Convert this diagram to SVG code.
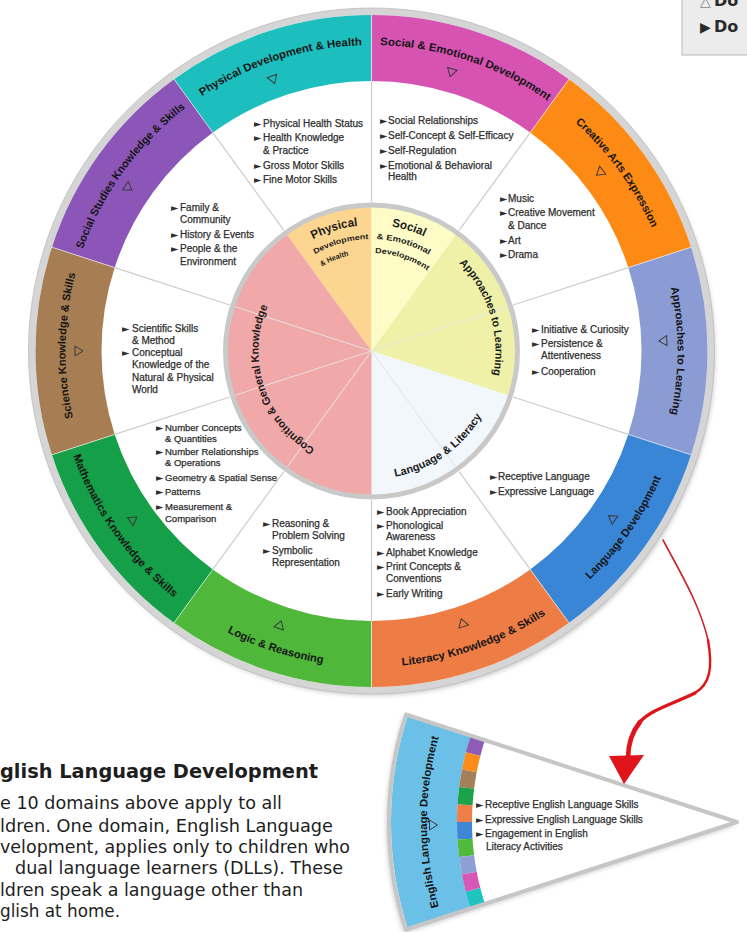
<svg xmlns="http://www.w3.org/2000/svg" width="747" height="932" viewBox="0 0 747 932">
  <style>
    .band-label { font-family: "Liberation Sans", Arial, sans-serif; font-weight: bold; font-size: 11px; fill: #151515; text-anchor: middle; }
    .pie-label { font-family: "Liberation Sans", Arial, sans-serif; font-weight: bold; fill: #1a1a1a; text-anchor: middle; }
    .li { font-family: "Liberation Sans", Arial, sans-serif; font-size: 10px; fill: #2e2e2e; stroke: #2e2e2e; stroke-width: 0.25; }
    .sm { font-size: 9.5px; }
    .ar { font-family: "DejaVu Sans", sans-serif; font-size: 9.5px; fill: #2e2e2e; stroke: none; }
    .arc { fill: none; stroke-width: 66; }
    .strip { fill: none; stroke-width: 15; }
    .divider { stroke: #cdcdcd; stroke-width: 1.2; }
    .sep { stroke: #ffffff; stroke-opacity: 0.6; stroke-width: 1; }
    .faint { stroke: #e4e4e4; stroke-width: 1.1; stroke-opacity: 0.85; }
    .tri { fill: none; stroke: #3a3a3a; stroke-width: 1; }
    .note { font-family: "DejaVu Sans", Verdana, sans-serif; font-size: 17px; fill: #1e1e1e; }
    .note-head { font-family: "DejaVu Sans", Verdana, sans-serif; font-weight: bold; font-size: 19px; fill: #1e1e1e; }
    .legend { font-family: "DejaVu Sans", Verdana, sans-serif; font-weight: bold; font-size: 16px; fill: #2a2a2a; }
  </style>
  <defs>
    <filter id="soft" x="-10%" y="-10%" width="120%" height="120%">
      <feGaussianBlur stdDeviation="2.5"/>
    </filter>
    <!-- outline triangle pointing toward +y; rotated to point at the hub -->
    <path id="tri" d="M-5,-3.5 L5,-3.5 L0,4.5 Z"/>
    <!-- text baselines: full circles around the hub (371.5,351) -->
    <path id="cwBand" d="M371.5,657 A306,306 0 1 1 371.5,45 A306,306 0 1 1 371.5,657"/>
    <path id="ccwBand" d="M371.5,35 A316,316 0 1 0 371.5,667 A316,316 0 1 0 371.5,35"/>
    <path id="cw126" d="M371.5,477 A126,126 0 1 1 371.5,225 A126,126 0 1 1 371.5,477"/>
    <path id="cw112" d="M371.5,463 A112,112 0 1 1 371.5,239 A112,112 0 1 1 371.5,463"/>
    <path id="cw98" d="M371.5,449 A98,98 0 1 1 371.5,253 A98,98 0 1 1 371.5,449"/>
    <path id="cw124" d="M371.5,475 A124,124 0 1 1 371.5,227 A124,124 0 1 1 371.5,475"/>
    <path id="cw113" d="M371.5,464 A113,113 0 1 1 371.5,238 A113,113 0 1 1 371.5,464"/>
    <path id="ccw128" d="M371.5,223 A128,128 0 1 0 371.5,479 A128,128 0 1 0 371.5,223"/>
    <path id="eldArc" d="M442.17,917.8 A310,310 0 0 1 442.17,726.2"/>
  </defs>

  <rect width="747" height="932" fill="#ffffff"/>

  <!-- wheel base: shadow, rim, white field, dividers -->
  <g id="wheel-base">
    <circle cx="373.5" cy="354" r="341" fill="#8a8a8a" opacity="0.55" filter="url(#soft)"/>
    <circle cx="371.5" cy="351" r="339.5" fill="#ffffff" stroke="#d5d5d5" stroke-width="7"/>
    <circle cx="371.5" cy="351" r="343" fill="none" stroke="#bdbdbd" stroke-width="0.8"/>
    <g class="divider">
      <line x1="371.5" y1="202" x2="371.5" y2="81"/>
      <line x1="459.08" y1="230.46" x2="530.21" y2="132.57"/>
      <line x1="513.21" y1="304.96" x2="628.29" y2="267.57"/>
      <line x1="513.21" y1="397.04" x2="628.29" y2="434.43"/>
      <line x1="459.08" y1="471.54" x2="530.21" y2="569.43"/>
      <line x1="371.5" y1="500" x2="371.5" y2="621"/>
      <line x1="283.92" y1="471.54" x2="212.79" y2="569.43"/>
      <line x1="229.79" y1="397.04" x2="114.71" y2="434.43"/>
      <line x1="229.79" y1="304.96" x2="114.71" y2="267.57"/>
      <line x1="283.92" y1="230.46" x2="212.79" y2="132.57"/>
    </g>
  </g>

  <!-- inner pie: the five broad areas -->
  <g id="area-physical">
    <path d="M371.5,351 L285.68,232.88 A146,146 0 0 1 371.5,205 Z" fill="#fcd690"/>
    <text class="pie-label" font-size="12"><textPath href="#cw126" startOffset="45.28%" textLength="47" lengthAdjust="spacingAndGlyphs">Physical</textPath></text>
    <text class="pie-label" font-size="7.5"><textPath href="#cw112" startOffset="45.56%" textLength="56" lengthAdjust="spacingAndGlyphs">Development</textPath></text>
    <text class="pie-label" font-size="7.5"><textPath href="#cw98" startOffset="43.89%" textLength="29" lengthAdjust="spacingAndGlyphs">&amp; Health</textPath></text>
  </g>
  <g id="area-social">
    <path d="M371.5,351 L371.5,205 A146,146 0 0 1 457.32,232.88 Z" fill="#fdfcc6"/>
    <text class="pie-label" font-size="12"><textPath href="#cw126" startOffset="54.72%" textLength="34" lengthAdjust="spacingAndGlyphs">Social</textPath></text>
    <text class="pie-label" font-size="8"><textPath href="#cw112" startOffset="54.64%" textLength="55" lengthAdjust="spacingAndGlyphs">&amp; Emotional</textPath></text>
    <text class="pie-label" font-size="7.5"><textPath href="#cw98" startOffset="55.14%" textLength="56" lengthAdjust="spacingAndGlyphs">Development</textPath></text>
  </g>
  <g id="area-approaches">
    <path d="M371.5,351 L457.32,232.88 A146,146 0 0 1 510.36,396.12 Z" fill="#eef1a7"/>
    <line class="faint" x1="371.5" y1="351" x2="507.5" y2="306.81"/>
    <text class="pie-label" font-size="11"><textPath href="#cw124" startOffset="70.28%" textLength="122" lengthAdjust="spacingAndGlyphs">Approaches to Learning</textPath></text>
  </g>
  <g id="area-language">
    <path d="M371.5,351 L510.36,396.12 A146,146 0 0 1 371.5,497 Z" fill="#f2f7fc"/>
    <line class="faint" x1="371.5" y1="351" x2="455.55" y2="466.69"/>
    <text class="pie-label" font-size="11"><textPath href="#ccw128" startOffset="59.72%" textLength="109" lengthAdjust="spacingAndGlyphs">Language &amp; Literacy</textPath></text>
  </g>
  <g id="area-cognition">
    <path d="M371.5,351 L371.5,497 A146,146 0 0 1 285.68,232.88 Z" fill="#f1a8a8"/>
    <g class="faint">
      <line x1="371.5" y1="351" x2="287.45" y2="466.69"/>
      <line x1="371.5" y1="351" x2="235.5" y2="395.19"/>
      <line x1="371.5" y1="351" x2="235.5" y2="306.81"/>
    </g>
    <text class="pie-label" font-size="11"><textPath href="#cw113" startOffset="19.92%" textLength="164" lengthAdjust="spacingAndGlyphs">Cognition &amp; General Knowledge</textPath></text>
  </g>
  <circle cx="371.5" cy="351" r="146" fill="none" stroke="#c9c9c9" stroke-width="5"/>

  <!-- outer ring: the ten domains -->
  <g id="domain-physical">
    <path class="arc" d="M193.4,105.87 A303,303 0 0 1 371.5,48" stroke="#1cbfbe"/>
    <text class="band-label"><textPath href="#cwBand" startOffset="45.08%" textLength="170" lengthAdjust="spacingAndGlyphs">Physical Development &amp; Health</textPath></text>
    <use href="#tri" class="tri" transform="translate(273.1,79.3) rotate(-19.9)"/>
    <text class="li" x="254" y="127"><tspan class="ar">►</tspan><tspan x="263">Physical Health Status</tspan></text>
    <text class="li" x="254" y="141"><tspan class="ar">►</tspan><tspan x="263">Health Knowledge</tspan></text>
    <text class="li" x="263" y="154">&amp; Practice</text>
    <text class="li" x="254" y="169"><tspan class="ar">►</tspan><tspan x="263">Gross Motor Skills</tspan></text>
    <text class="li" x="254" y="183"><tspan class="ar">►</tspan><tspan x="263">Fine Motor Skills</tspan></text>
  </g>
  <g id="domain-social-emotional">
    <path class="arc" d="M371.5,48 A303,303 0 0 1 549.6,105.87" stroke="#d653b2"/>
    <text class="band-label"><textPath href="#cwBand" startOffset="55.11%" textLength="179" lengthAdjust="spacingAndGlyphs">Social &amp; Emotional Development</textPath></text>
    <use href="#tri" class="tri" transform="translate(451.4,72.2) rotate(16)"/>
    <text class="li" x="380" y="123.5"><tspan class="ar">►</tspan><tspan x="388">Social Relationships</tspan></text>
    <text class="li" x="380" y="139"><tspan class="ar">►</tspan><tspan x="388">Self-Concept &amp; Self-Efficacy</tspan></text>
    <text class="li" x="380" y="154"><tspan class="ar">►</tspan><tspan x="388">Self-Regulation</tspan></text>
    <text class="li" x="380" y="168.5"><tspan class="ar">►</tspan><tspan x="388">Emotional &amp; Behavioral</tspan></text>
    <text class="li" x="388" y="180" font-size="8">Health</text>
  </g>
  <g id="domain-creative-arts">
    <path class="arc" d="M549.6,105.87 A303,303 0 0 1 659.68,257.37" stroke="#fc8a14"/>
    <text class="band-label"><textPath href="#cwBand" startOffset="65%" textLength="131" lengthAdjust="spacingAndGlyphs">Creative Arts Expression</textPath></text>
    <use href="#tri" class="tri" transform="translate(600,172.4) rotate(52)"/>
    <text class="li" x="500" y="202"><tspan class="ar">►</tspan><tspan x="508">Music</tspan></text>
    <text class="li" x="500" y="216"><tspan class="ar">►</tspan><tspan x="508">Creative Movement</tspan></text>
    <text class="li" x="508" y="229">&amp; Dance</text>
    <text class="li" x="500" y="243.5"><tspan class="ar">►</tspan><tspan x="508">Art</tspan></text>
    <text class="li" x="500" y="258"><tspan class="ar">►</tspan><tspan x="508">Drama</tspan></text>
  </g>
  <g id="domain-approaches">
    <path class="arc" d="M659.68,257.37 A303,303 0 0 1 659.68,444.63" stroke="#8a9cd3"/>
    <text class="band-label"><textPath href="#cwBand" startOffset="75%" textLength="128" lengthAdjust="spacingAndGlyphs">Approaches to Learning</textPath></text>
    <use href="#tri" class="tri" transform="translate(663.3,340.8) rotate(88)"/>
    <text class="li" x="532" y="333"><tspan class="ar">►</tspan><tspan x="541">Initiative &amp; Curiosity</tspan></text>
    <text class="li" x="532" y="347"><tspan class="ar">►</tspan><tspan x="541">Persistence &amp;</tspan></text>
    <text class="li" x="541" y="359">Attentiveness</text>
    <text class="li" x="532" y="374.5"><tspan class="ar">►</tspan><tspan x="541">Cooperation</tspan></text>
  </g>
  <g id="domain-language">
    <path class="arc" d="M659.68,444.63 A303,303 0 0 1 549.6,596.13" stroke="#3a86d6"/>
    <text class="band-label"><textPath href="#ccwBand" startOffset="65.28%" textLength="125" lengthAdjust="spacingAndGlyphs">Language Development</textPath></text>
    <use href="#tri" class="tri" transform="translate(612.1,518.2) rotate(124.8)"/>
    <text class="li" x="490" y="479.5"><tspan class="ar">►</tspan><tspan x="498">Receptive Language</tspan></text>
    <text class="li" x="490" y="494.5"><tspan class="ar">►</tspan><tspan x="498">Expressive Language</tspan></text>
  </g>
  <g id="domain-literacy">
    <path class="arc" d="M549.6,596.13 A303,303 0 0 1 371.5,654" stroke="#ee7d45"/>
    <text class="band-label"><textPath href="#ccwBand" startOffset="55.42%" textLength="154" lengthAdjust="spacingAndGlyphs">Literacy Knowledge &amp; Skills</textPath></text>
    <use href="#tri" class="tri" transform="translate(462.6,623.2) rotate(161.5)"/>
    <text class="li" x="377" y="514.5"><tspan class="ar">►</tspan><tspan x="386">Book Appreciation</tspan></text>
    <text class="li" x="377" y="529"><tspan class="ar">►</tspan><tspan x="386">Phonological</tspan></text>
    <text class="li" x="386" y="540">Awareness</text>
    <text class="li" x="377" y="555.5"><tspan class="ar">►</tspan><tspan x="386">Alphabet Knowledge</tspan></text>
    <text class="li" x="377" y="569.5"><tspan class="ar">►</tspan><tspan x="386">Print Concepts &amp;</tspan></text>
    <text class="li" x="386" y="582">Conventions</text>
    <text class="li" x="377" y="596.5"><tspan class="ar">►</tspan><tspan x="386">Early Writing</tspan></text>
  </g>
  <g id="domain-logic">
    <path class="arc" d="M371.5,654 A303,303 0 0 1 193.4,596.13" stroke="#4fb83b"/>
    <text class="band-label"><textPath href="#ccwBand" startOffset="45%" textLength="101" lengthAdjust="spacingAndGlyphs">Logic &amp; Reasoning</textPath></text>
    <use href="#tri" class="tri" transform="translate(279.8,625.1) rotate(198.5)"/>
    <text class="li" x="263" y="526.5"><tspan class="ar">►</tspan><tspan x="272">Reasoning &amp;</tspan></text>
    <text class="li" x="272" y="538.5">Problem Solving</text>
    <text class="li" x="263" y="553.5"><tspan class="ar">►</tspan><tspan x="272">Symbolic</tspan></text>
    <text class="li" x="272" y="565.5">Representation</text>
  </g>
  <g id="domain-mathematics">
    <path class="arc" d="M193.4,596.13 A303,303 0 0 1 83.32,444.63" stroke="#149f48"/>
    <text class="band-label"><textPath href="#ccwBand" startOffset="34.81%" textLength="176" lengthAdjust="spacingAndGlyphs">Mathematics Knowledge &amp; Skills</textPath></text>
    <use href="#tri" class="tri" transform="translate(133.2,519.7) rotate(234.7)"/>
    <text class="li sm" x="156" y="430.5"><tspan class="ar">►</tspan><tspan x="165">Number Concepts</tspan></text>
    <text class="li sm" x="165" y="442">&amp; Quantities</text>
    <text class="li sm" x="156" y="454.5"><tspan class="ar">►</tspan><tspan x="165">Number Relationships</tspan></text>
    <text class="li sm" x="165" y="466">&amp; Operations</text>
    <text class="li sm" x="156" y="481"><tspan class="ar">►</tspan><tspan x="165">Geometry &amp; Spatial Sense</tspan></text>
    <text class="li sm" x="156" y="495"><tspan class="ar">►</tspan><tspan x="165">Patterns</tspan></text>
    <text class="li sm" x="156" y="510"><tspan class="ar">►</tspan><tspan x="165">Measurement &amp;</tspan></text>
    <text class="li sm" x="165" y="521.5">Comparison</text>
  </g>
  <g id="domain-science">
    <path class="arc" d="M83.32,444.63 A303,303 0 0 1 83.32,257.37" stroke="#a77d53"/>
    <text class="band-label"><textPath href="#cwBand" startOffset="25.28%" textLength="146" lengthAdjust="spacingAndGlyphs">Science Knowledge &amp; Skills</textPath></text>
    <use href="#tri" class="tri" transform="translate(78.5,351) rotate(270)"/>
    <text class="li" x="122" y="332"><tspan class="ar">►</tspan><tspan x="132">Scientific Skills</tspan></text>
    <text class="li" x="132" y="343.5">&amp; Method</text>
    <text class="li" x="122" y="355.5"><tspan class="ar">►</tspan><tspan x="132">Conceptual</tspan></text>
    <text class="li" x="132" y="368">Knowledge of the</text>
    <text class="li" x="132" y="381">Natural &amp; Physical</text>
    <text class="li" x="132" y="393">World</text>
  </g>
  <g id="domain-social-studies">
    <path class="arc" d="M83.32,257.37 A303,303 0 0 1 193.4,105.87" stroke="#8b56b8"/>
    <text class="band-label"><textPath href="#cwBand" startOffset="35%" textLength="177" lengthAdjust="spacingAndGlyphs">Social Studies Knowledge &amp; Skills</textPath></text>
    <use href="#tri" class="tri" transform="translate(128.3,187.6) rotate(303.9)"/>
    <text class="li" x="171" y="211"><tspan class="ar">►</tspan><tspan x="180">Family &amp;</tspan></text>
    <text class="li" x="180" y="223">Community</text>
    <text class="li" x="171" y="238"><tspan class="ar">►</tspan><tspan x="180">History &amp; Events</tspan></text>
    <text class="li" x="171" y="252"><tspan class="ar">►</tspan><tspan x="180">People &amp; the</tspan></text>
    <text class="li" x="180" y="265">Environment</text>
  </g>

  <!-- thin light seams between ring segments -->
  <g class="sep">
    <line x1="371.5" y1="81" x2="371.5" y2="15"/>
    <line x1="530.21" y1="132.57" x2="569" y2="79.17"/>
    <line x1="628.29" y1="267.57" x2="691.06" y2="247.18"/>
    <line x1="628.29" y1="434.43" x2="691.06" y2="454.82"/>
    <line x1="530.21" y1="569.43" x2="569" y2="622.83"/>
    <line x1="371.5" y1="621" x2="371.5" y2="687"/>
    <line x1="212.79" y1="569.43" x2="174" y2="622.83"/>
    <line x1="114.71" y1="434.43" x2="51.94" y2="454.82"/>
    <line x1="114.71" y1="267.57" x2="51.94" y2="247.18"/>
    <line x1="212.79" y1="132.57" x2="174" y2="79.17"/>
  </g>

  <!-- English Language Development wedge -->
  <g id="domain-eld">
    <path d="M737,822 L406,714.5 A348,348 0 0 0 406,929.5 Z" transform="translate(-2,3)" fill="#8a8a8a" opacity="0.55" filter="url(#soft)"/>
    <path d="M737,822 L406,714.5 A348,348 0 0 0 406,929.5 Z" fill="#ffffff"/>
    <path class="arc" d="M439.32,725.28 A313,313 0 0 0 439.32,918.72" stroke="#6bc0e8"/>
    <path class="strip" d="M477.84,737.79 A272.5,272.5 0 0 0 473.06,754.23" stroke="#8f5cb8"/>
    <path class="strip" d="M473.06,754.23 A272.5,272.5 0 0 0 469.33,770.94" stroke="#fc8c1c"/>
    <path class="strip" d="M469.33,770.94 A272.5,272.5 0 0 0 466.65,787.85" stroke="#a4805a"/>
    <path class="strip" d="M466.65,787.85 A272.5,272.5 0 0 0 465.04,804.89" stroke="#1ca34a"/>
    <path class="strip" d="M465.04,804.89 A272.5,272.5 0 0 0 464.5,822" stroke="#ef7e48"/>
    <path class="strip" d="M464.5,822 A272.5,272.5 0 0 0 465.04,839.11" stroke="#3d87d6"/>
    <path class="strip" d="M465.04,839.11 A272.5,272.5 0 0 0 466.65,856.15" stroke="#4fba3c"/>
    <path class="strip" d="M466.65,856.15 A272.5,272.5 0 0 0 469.33,873.06" stroke="#8e9fd6"/>
    <path class="strip" d="M469.33,873.06 A272.5,272.5 0 0 0 473.06,889.77" stroke="#d757b5"/>
    <path class="strip" d="M473.06,889.77 A272.5,272.5 0 0 0 477.84,906.21" stroke="#20c4bf"/>
    <path d="M737,822 L406,714.5 A348,348 0 0 0 406,929.5 Z" fill="none" stroke="#c6c6c6" stroke-width="4" stroke-linejoin="round"/>
    <text class="band-label"><textPath href="#eldArc" startOffset="50%" textLength="172" lengthAdjust="spacingAndGlyphs">English Language Development</textPath></text>
    <use href="#tri" class="tri" transform="translate(433,825) rotate(-90)"/>
    <text class="li" x="476" y="808"><tspan class="ar">►</tspan><tspan x="485">Receptive English Language Skills</tspan></text>
    <text class="li" x="476" y="822.5"><tspan class="ar">►</tspan><tspan x="485">Expressive English Language Skills</tspan></text>
    <text class="li" x="476" y="836.5"><tspan class="ar">►</tspan><tspan x="485">Engagement in English</tspan></text>
    <text class="li" x="486" y="849.5">Literacy Activities</text>
  </g>

  <!-- link from the language domain down to the wedge -->
  <g id="connectors">
    <g fill="none" stroke="#e0141b" stroke-linecap="round">
      <path d="M663,540 C680,572 700,605 708,640" stroke-width="1.6" stroke="#c8242b"/>
      <path d="M708,640 C713,668 710,684 695,693" stroke-width="2.4"/>
      <path d="M695,693 C675,703 650,710 640,722" stroke-width="3.4"/>
      <path d="M640,722 C632,732 628,745 628,758" stroke-width="4.6"/>
    </g>
    <polygon points="609,756 644,755 624,784" fill="#e0141b"/>
  </g>

  <!-- explanatory note, cut by the left page edge -->
  <g id="note">
    <text class="note-head" x="0" y="778" textLength="318" lengthAdjust="spacingAndGlyphs">glish Language Development</text>
    <text class="note" x="0" y="809" textLength="282" lengthAdjust="spacingAndGlyphs">e 10 domains above apply to all</text>
    <text class="note" x="0" y="831.5" textLength="333" lengthAdjust="spacingAndGlyphs">ldren. One domain, English Language</text>
    <text class="note" x="0" y="852.5" textLength="350" lengthAdjust="spacingAndGlyphs">velopment, applies only to children who</text>
    <text class="note" x="15" y="874" textLength="328" lengthAdjust="spacingAndGlyphs">dual language learners (DLLs). These</text>
    <text class="note" x="0" y="896" textLength="303" lengthAdjust="spacingAndGlyphs">ldren speak a language other than</text>
    <text class="note" x="0" y="916.5" textLength="120" lengthAdjust="spacingAndGlyphs">glish at home.</text>
  </g>

  <!-- key box in the top right corner -->
  <g id="legend">
    <rect x="682" y="-4" width="70" height="59" fill="#ececec" stroke="#c2c2c2" stroke-width="1.2"/>
    <text class="legend" x="700" y="6"><tspan font-size="14" fill="#888" font-weight="normal">△</tspan><tspan x="714">Do</tspan></text>
    <text class="legend" x="700" y="32"><tspan font-size="14">▶</tspan><tspan x="714">Do</tspan></text>
  </g>
</svg>
